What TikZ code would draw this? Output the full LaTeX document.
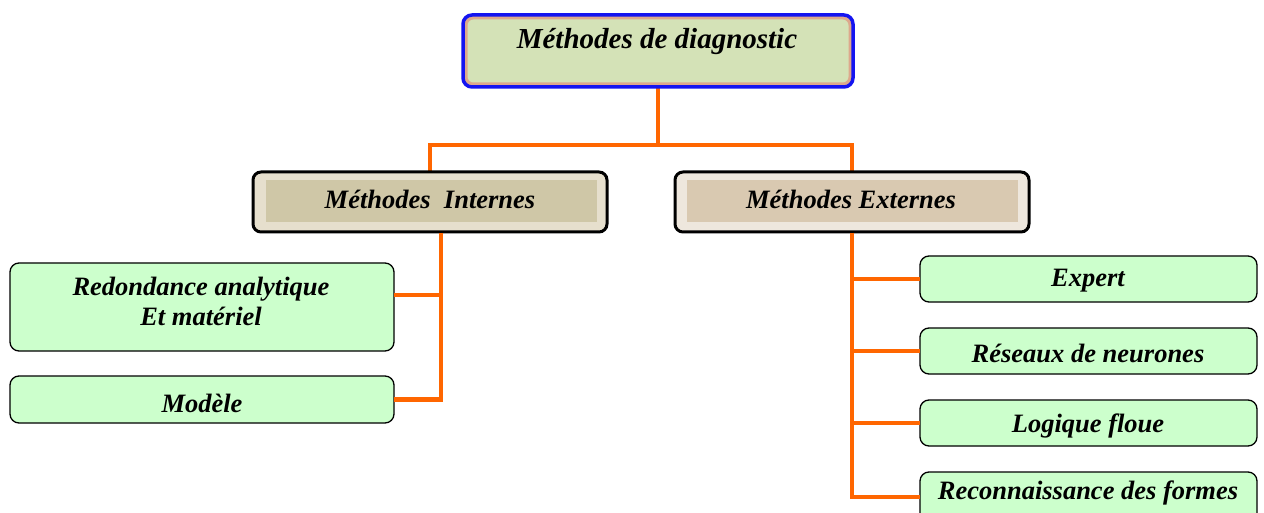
\documentclass[tikz,border=0pt]{standalone}
\usepackage{fontspec}
\setmainfont{Liberation Serif}
\definecolor{conncol}{HTML}{FF6600}
\definecolor{leafgreen}{HTML}{CCFFCC}
\definecolor{topfill}{HTML}{D4E2B7}
\definecolor{toprim}{HTML}{DDA88C}
\definecolor{topblue}{HTML}{1414F0}
\definecolor{intring}{HTML}{E6DFCD}
\definecolor{intfill}{HTML}{CFC7A7}
\definecolor{extring}{HTML}{EEE7DD}
\definecolor{extfill}{HTML}{D9C9B1}
\tikzset{
  box/.style={inner sep=0pt, outer sep=0pt},
  conn/.style={draw=conncol, line width=4.8pt},
  leaf/.style={box, draw=black, line width=1.3pt, rounded corners=9pt, fill=leafgreen},
  catbox/.style={box, draw=black, line width=3pt, rounded corners=8pt},
  lbl/.style={font=\fontsize{26.5}{30}\selectfont\bfseries\itshape, align=center, inner sep=0pt},
  toplbl/.style={font=\fontsize{29}{33}\selectfont\bfseries\itshape, inner sep=0pt},
}
\begin{document}
\begin{tikzpicture}[x=1pt,y=-1pt]
\useasboundingbox (0,0) rectangle (1264,513);
\clip (0,0) rectangle (1264,513);

% connectors (drawn first so the boxes cover their ends)
\coordinate (split) at (658,145);
\coordinate (ib) at (441,233);
\coordinate (eb) at (852,233);
\coordinate (topb) at (658,87);
\draw[conn] (topb) -- (split);
\draw[conn] (split) -| (430,172);
\draw[conn] (split) -| (852,172);

% root box
\node[box, draw=topblue, line width=3.5pt, rounded corners=9pt, fill=toprim,
      minimum width=390pt, minimum height=72pt] (top) at (658,51) {};
\node[box, fill=topfill, rounded corners=6pt,
      minimum width=381pt, minimum height=63pt] (topin) at (658,51) {};
\node[toplbl] (toptxt) at (657,42) {Méthodes de diagnostic};

% category boxes
\node[catbox, fill=intring, minimum width=354pt, minimum height=60pt] (int) at (430,202) {};
\node[box, fill=intfill, minimum width=331pt, minimum height=42pt] (intin) at (431,201) {};
\node[lbl] (inttxt) at (430,199) {Méthodes\ \ Internes};

\node[catbox, fill=extring, minimum width=354pt, minimum height=60pt] (ext) at (852,202) {};
\node[box, fill=extfill, minimum width=331pt, minimum height=42pt] (extin) at (852,201) {};
\node[lbl] (exttxt) at (851,199) {Méthodes Externes};

% internal methods
\node[leaf, minimum width=384pt, minimum height=88pt] (red) at (202,307) {};
\node[lbl] (redtxt) at (201,301) {Redondance analytique\\Et matériel};
\node[leaf, minimum width=384pt, minimum height=47pt] (mod) at (202,399.5) {};
\node[lbl] (modtxt) at (202,403) {Modèle};

% external methods
\node[leaf, minimum width=337pt, minimum height=46pt] (exp) at (1088.5,279) {};
\node[lbl] (exptxt) at (1088,281) {Expert};
\node[leaf, minimum width=337pt, minimum height=46pt] (res) at (1088.5,351) {};
\node[lbl] (restxt) at (1088,353) {Réseaux de neurones};
\node[leaf, minimum width=337pt, minimum height=46pt] (log) at (1088.5,423) {};
\node[lbl] (logtxt) at (1088,426) {Logique floue};
\node[leaf, minimum width=337pt, minimum height=50pt] (rec) at (1088.5,497) {};
\node[lbl] (rectxt) at (1088,493) {Reconnaissance des formes};

% branch connectors
\draw[conn] ([yshift=12pt]red.east) -| (ib);
\draw[conn] (ib) |- (mod.east);
\draw[conn] (eb) |- (rec.west);
\draw[conn] (eb |- exp.west) -- (exp.west);
\draw[conn] (eb |- res.west) -- (res.west);
\draw[conn] (eb |- log.west) -- (log.west);
\end{tikzpicture}
\end{document}
